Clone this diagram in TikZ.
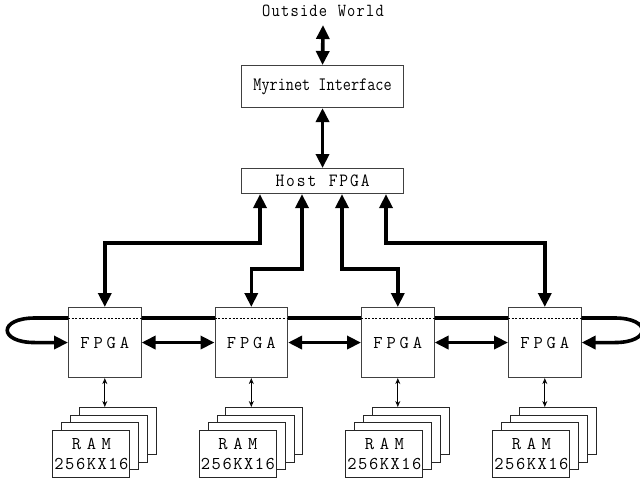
\documentclass[tikz,border=0pt]{standalone}
\usetikzlibrary{arrows.meta}
\newdimen\spk
\def\spc#1#2{\spk=#1\relax\spcaux#2\relax}
\def\spcaux#1{\ifx#1\relax\unkern\else#1\kern\spk\expandafter\spcaux\fi}
\newcommand\tx[4]{\scalebox{1}[#3]{\fontsize{#1}{#1}\selectfont\spc{#2}{#4}}}
\tikzset{
  box/.style={draw=black!75, line width=1.1pt, fill=white, inner sep=0pt, anchor=north west, font=\ttfamily},
  card/.style={draw=black!85, line width=1pt, fill=white, inner sep=0pt, anchor=north west, minimum width=77pt, minimum height=47pt},
  thk/.style={line width=3.6pt, {Triangle[length=14pt,width=13pt]}-{Triangle[length=14pt,width=13pt]}},
  ring/.style={line width=3.6pt},
  ringend/.style={line width=3.6pt, -{Triangle[length=14pt,width=13pt]}},
  thinarr/.style={line width=0.8pt, {Stealth[length=6pt,width=5pt,open]}-{Stealth[length=6pt,width=5pt,open]}},
  dsh/.style={line width=0.8pt, dash pattern=on 2pt off 1.6pt},
  lbl/.style={font=\ttfamily, inner sep=0pt}
}
\begin{document}
\begin{tikzpicture}[x=1pt,y=-1pt]
\useasboundingbox (0,0) rectangle (640,482);
% top
\node[lbl] (out) at (323,11) {\tx{16}{1.2pt}{1.15}{Outside~World}};
\node[box, minimum width=162pt, minimum height=42pt] (myr) at (241,65) {\tx{15.8}{0pt}{1.2}{Myrinet~Interface}};
\node[box, minimum width=162pt, minimum height=25pt] (host) at (241,168) {\tx{17}{1.9pt}{1.1}{Host~FPGA}};
\draw[thk] ([yshift=-8pt]out.south) -- (myr.north);
\draw[thk] (myr.south) -- (host.north);
% FPGAs
\foreach \i/\x in {1/68,2/214.5,3/361,4/508}{
  \node[box, minimum width=72.5pt, minimum height=70pt] (f\i) at (\x,307) {\tx{18}{3.9pt}{1.0}{FPGA}};
  \draw[dsh] ([yshift=-11pt]f\i.north west) -- ([yshift=-11pt]f\i.north east);
}
% host connections
\draw[thk] ([xshift=19pt]host.south west) -- ++(0,49) -| (f1.north);
\draw[thk] ([xshift=61pt]host.south west) -- ++(0,75) -| (f2.north);
\draw[thk] ([xshift=101pt]host.south west) -- ++(0,75) -| (f3.north);
\draw[thk] ([xshift=145pt]host.south west) -- ++(0,49) -| (f4.north);
% ring
\draw[ring] ([yshift=-11pt]f1.north east) -- ([yshift=-11pt]f2.north west);
\draw[ring] ([yshift=-11pt]f2.north east) -- ([yshift=-11pt]f3.north west);
\draw[ring] ([yshift=-11pt]f3.north east) -- ([yshift=-11pt]f4.north west);
\draw[ringend] ([yshift=-11pt]f1.north west) -- ++(-33,0) .. controls +(-37,0) and +(-37,0) .. ([xshift=-33pt]f1.west) -- (f1.west);
\draw[ringend] ([yshift=-11pt]f4.north east) -- ++(33,0) .. controls +(37,0) and +(37,0) .. ([xshift=33pt]f4.west -| f4.east) -- (f4.east);
% neighbour links
\draw[thk] (f1.east) -- (f2.west);
\draw[thk] (f2.east) -- (f3.west);
\draw[thk] (f3.east) -- (f4.west);
% RAM stacks
\foreach \i/\cx in {1/104.3,2/250.8,3/397.3,4/544.3}{
  \foreach \j in {0,1,2,3}{
    \node[card] (r\i\j) at ({\cx-25.5-8.8*\j},{407+7.7*\j}) {};
  }
  \node[lbl] (ta\i) at ([yshift=10pt]r\i3.center) {\tx{18}{5.6pt}{1.0}{RAM}};
  \node[lbl] (tb\i) at ([yshift=-10pt]r\i3.center) {\tx{18}{1.5pt}{1.0}{256KX16}};
  \draw[thinarr] (f\i.south) -- (f\i.south |- r\i0.north);
}
\end{tikzpicture}
\end{document}
